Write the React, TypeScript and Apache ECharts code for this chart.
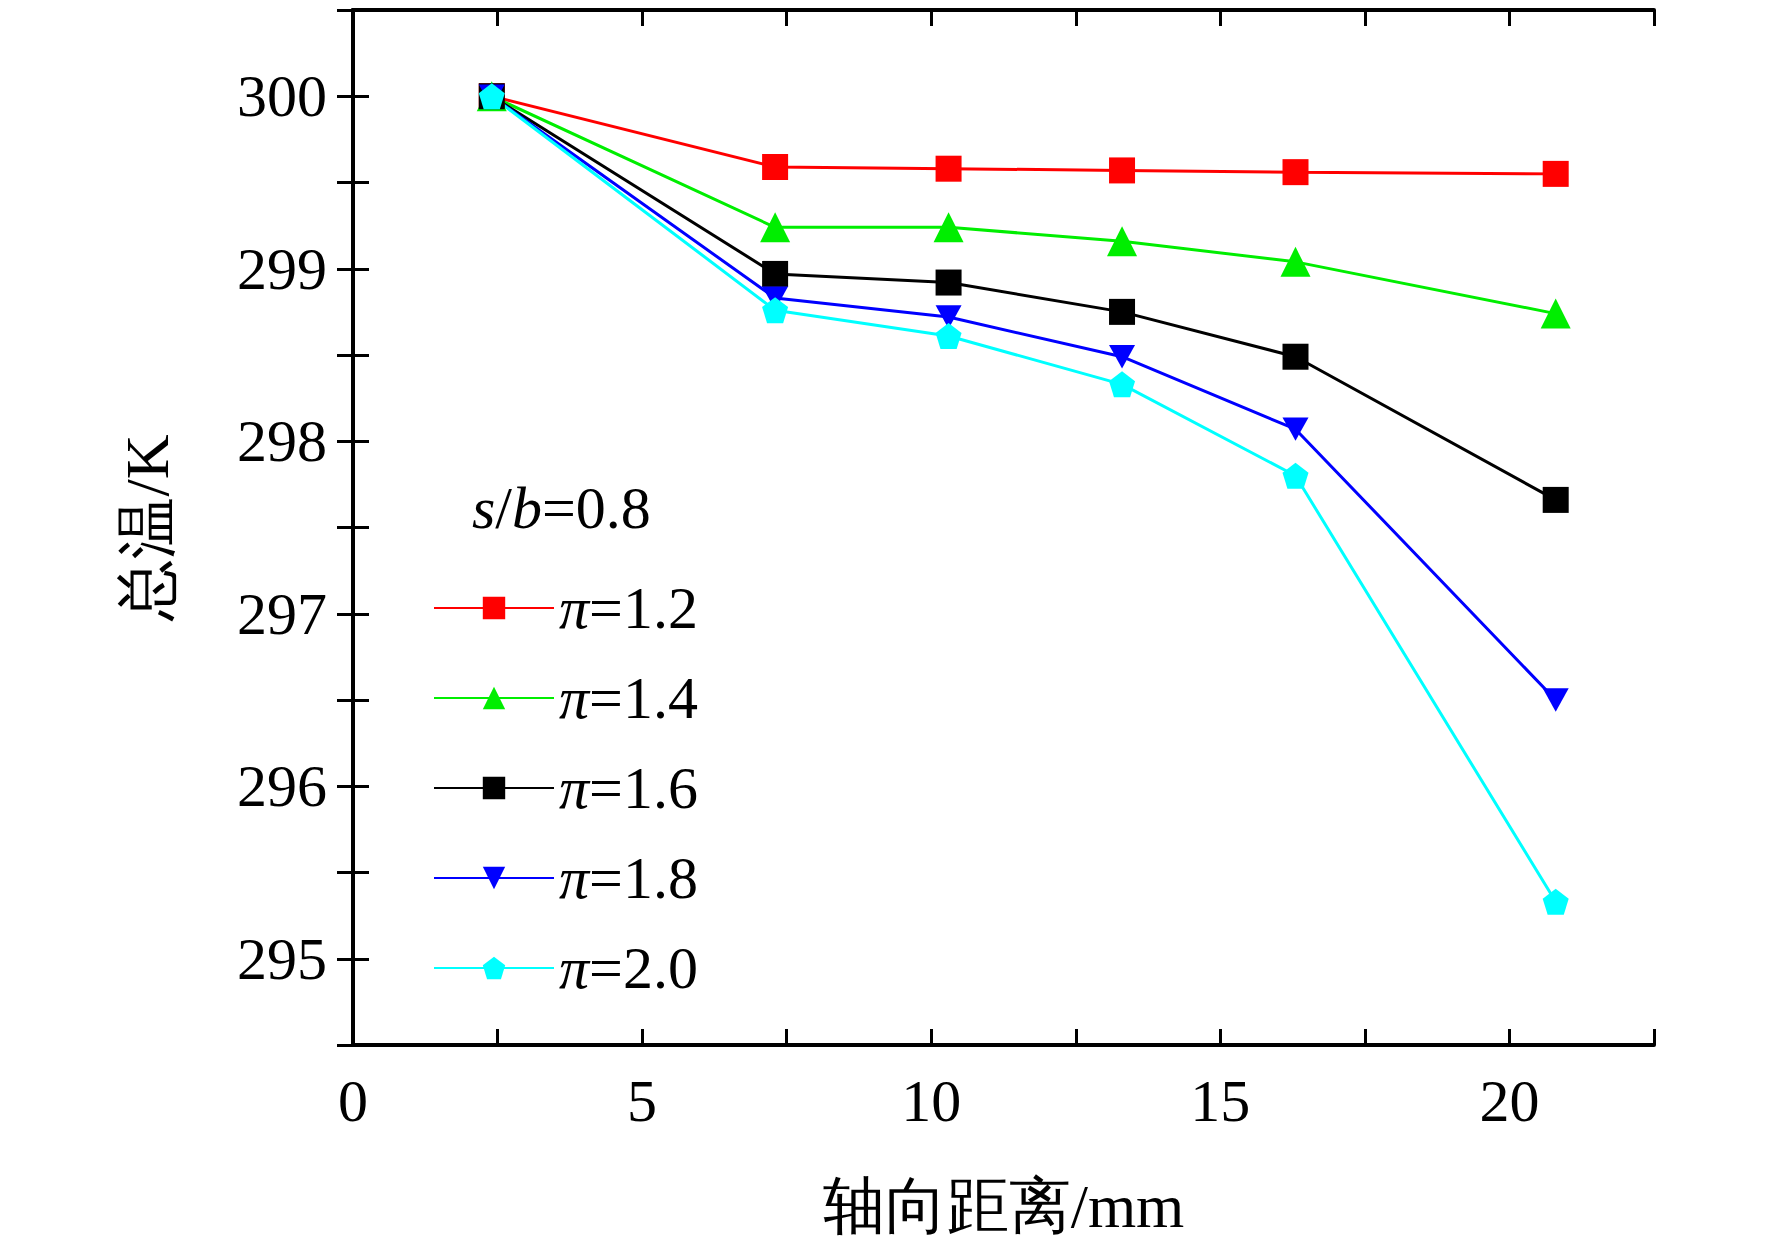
import React, { useEffect, useRef } from 'react';
import * as echarts from 'echarts';

const xValues = [2.4, 7.3, 10.3, 13.3, 16.3, 20.8];
const seriesNames = ['1.2', '1.4', '1.6', '1.8', '2.0'];
const pi12 = [300, 299.59, 299.58, 299.57, 299.56, 299.55];
const pi14 = [300, 299.24, 299.24, 299.16, 299.04, 298.74];
const pi16 = [300, 298.97, 298.92, 298.75, 298.49, 297.66];
const pi18 = [300, 298.83, 298.72, 298.49, 298.07, 296.5];
const pi20 = [300, 298.76, 298.61, 298.33, 297.80, 295.33];
const colors = ['#ff0000', '#00ee00', '#000000', '#0000ff', '#00ffff'];
const symbols = ['rect', 'triangle', 'rect', 'path://M0,0 L20,0 L10,18 Z', 'path://M10,0 L20,7.6 L16.2,20 L3.8,20 L0,7.6 Z'];

const font = 'Liberation Serif, Times New Roman, serif';

export default function App() {
  const chartRef = useRef<HTMLDivElement>(null);

  useEffect(() => {
    if (!chartRef.current) return;
    const chart = echarts.init(chartRef.current, undefined, { renderer: 'svg' });
    const all = [pi12, pi14, pi16, pi18, pi20];

    const axisLine = { show: true, lineStyle: { color: '#000', width: 4 } };
    const tick = { show: true, inside: true, length: 16, lineStyle: { color: '#000', width: 3 } };

    const option: echarts.EChartsOption = {
      animation: false,
      backgroundColor: '#fff',
      textStyle: { fontFamily: font },
      grid: { left: 345, right: 110, top: 2, bottom: 186 },
      xAxis: [
        {
          type: 'value', min: 0, max: 22.5, interval: 2.5,
          axisLine, axisTick: tick, splitLine: { show: false },
          axisLabel: {
            fontSize: 60, color: '#000', margin: 26, fontFamily: font,
            formatter: (v: number) => (v % 5 === 0 ? String(v) : '')
          },
          name: '轴向距离/mm', nameLocation: 'middle', nameGap: 130,
          nameTextStyle: { fontSize: 62, color: '#000', fontFamily: font }
        },
        {
          type: 'value', position: 'top', min: 0, max: 22.5, interval: 2.5,
          axisLine, axisTick: tick, axisLabel: { show: false }, splitLine: { show: false }
        }
      ],
      yAxis: [
        {
          type: 'value', min: 294.5, max: 300.5, interval: 0.5,
          axisLine, axisTick: tick, splitLine: { show: false },
          axisLabel: {
            fontSize: 60, color: '#000', margin: 26, fontFamily: font,
            formatter: (v: number) => (v % 1 === 0 ? String(v) : '')
          },
          name: '总温/K', nameLocation: 'middle', nameGap: 175, nameRotate: 90,
          nameTextStyle: { fontSize: 62, color: '#000', fontFamily: font }
        },
        {
          type: 'value', position: 'right', min: 294.5, max: 300.5, interval: 0.5,
          axisLine, axisTick: tick, axisLabel: { show: false }, splitLine: { show: false }
        }
      ],
      legend: {
        left: 420, top: 565, orient: 'vertical', itemGap: 30, itemWidth: 120, itemHeight: 28,
        data: seriesNames,
        formatter: (n: string) => `{i|π}{t|=${n}}`,
        textStyle: {
          rich: {
            i: { fontSize: 60, fontStyle: 'italic', fontFamily: font, color: '#000' },
            t: { fontSize: 60, fontFamily: font, color: '#000' }
          }
        }
      },
      graphic: [
        {
          type: 'text', left: 464, top: 470,
          style: {
            text: '{i|s}{t|/}{i|b}{t|=0.8}',
            rich: {
              i: { fontSize: 60, fontStyle: 'italic', fontFamily: font, fill: '#000' },
              t: { fontSize: 60, fontFamily: font, fill: '#000' }
            }
          }
        }
      ],
      series: all.map((d, i) => ({
        name: seriesNames[i],
        type: 'line',
        data: d.map((y, j) => [xValues[j], y]),
        symbol: symbols[i],
        symbolSize: i === 1 ? 30 : 26,
        symbolKeepAspect: true,
        color: colors[i],
        lineStyle: { width: 3, color: colors[i] },
        itemStyle: { color: colors[i] }
      }))
    };

    chart.setOption(option);
    return () => chart.dispose();
  }, []);

  return <div ref={chartRef} style={{ width: 1756, height: 1234 }} />;
}
